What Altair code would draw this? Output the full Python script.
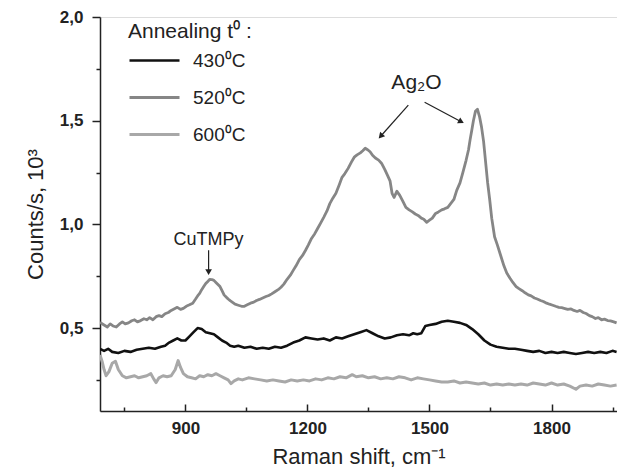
import altair as alt
import pandas as pd

# ---------------- data ----------------
wn_520 = [690, 700, 708, 715, 722, 730, 738, 745, 752, 760, 768, 775, 782, 790, 798, 805, 812, 820, 828, 835, 842,
          850, 858, 865, 872, 880, 888, 895, 902, 910, 918, 925, 930, 935, 940, 945, 950, 955, 960, 965, 970, 975,
          980, 985, 990, 995, 1000, 1005, 1010, 1015, 1022, 1030, 1038, 1045, 1052, 1060, 1068, 1075, 1082, 1090,
          1098, 1105, 1112, 1120, 1128, 1135, 1142, 1150, 1158, 1165, 1172, 1180, 1188, 1195, 1202, 1210, 1218, 1225,
          1232, 1240, 1248, 1255, 1262, 1270, 1278, 1285, 1292, 1300, 1308, 1315, 1322, 1330, 1336, 1342, 1348, 1354,
          1360, 1367, 1375, 1382, 1390, 1396, 1403, 1408, 1413, 1420, 1427, 1435, 1442, 1450, 1458, 1465, 1472, 1480,
          1486, 1493, 1500, 1507, 1515, 1522, 1530, 1537, 1545, 1552, 1560, 1567, 1575, 1582, 1590, 1596, 1600, 1604,
          1608, 1613, 1618, 1623, 1628, 1633, 1638, 1643, 1648, 1653, 1660, 1667, 1675, 1683, 1690, 1698, 1705, 1713,
          1720, 1728, 1735, 1743, 1750, 1758, 1765, 1773, 1780, 1788, 1795, 1803, 1810, 1818, 1825, 1833, 1840, 1848,
          1855, 1863, 1870, 1878, 1885, 1893, 1900, 1908, 1915, 1923, 1930, 1938, 1945, 1953, 1960]
counts_520 = [0.527, 0.515, 0.505, 0.52, 0.51, 0.505, 0.52, 0.53, 0.52, 0.525, 0.535, 0.54, 0.53, 0.536, 0.545, 0.54,
              0.55, 0.54, 0.555, 0.56, 0.555, 0.569, 0.575, 0.585, 0.592, 0.60, 0.59, 0.595, 0.605, 0.612, 0.62, 0.64,
              0.655, 0.667, 0.685, 0.70, 0.715, 0.725, 0.735, 0.734, 0.73, 0.72, 0.71, 0.70, 0.68, 0.66, 0.65, 0.64,
              0.632, 0.625, 0.615, 0.61, 0.605, 0.605, 0.612, 0.62, 0.625, 0.633, 0.638, 0.645, 0.652, 0.657, 0.665,
              0.675, 0.685, 0.697, 0.712, 0.735, 0.755, 0.778, 0.80, 0.83, 0.85, 0.874, 0.90, 0.932, 0.955, 0.98, 1.005,
              1.034, 1.065, 1.10, 1.125, 1.15, 1.19, 1.227, 1.245, 1.27, 1.30, 1.324, 1.335, 1.345, 1.355, 1.367, 1.36,
              1.35, 1.333, 1.32, 1.31, 1.295, 1.265, 1.24, 1.21, 1.15, 1.13, 1.16, 1.14, 1.11, 1.082, 1.07, 1.06, 1.05,
              1.043, 1.03, 1.025, 1.01, 1.02, 1.03, 1.053, 1.06, 1.07, 1.075, 1.082, 1.10, 1.12, 1.164, 1.20, 1.25,
              1.309, 1.36, 1.41, 1.454, 1.50, 1.545, 1.555, 1.52, 1.469, 1.40, 1.30, 1.20, 1.12, 1.03, 0.94, 0.90, 0.85,
              0.80, 0.765, 0.74, 0.72, 0.70, 0.69, 0.68, 0.67, 0.66, 0.655, 0.645, 0.64, 0.633, 0.628, 0.62, 0.615, 0.61,
              0.605, 0.60, 0.598, 0.594, 0.59, 0.592, 0.585, 0.58, 0.585, 0.575, 0.57, 0.56, 0.555, 0.546, 0.55, 0.54,
              0.543, 0.536, 0.535, 0.53, 0.525, 0.52, 0.515, 0.512]

wn_430 = [690, 700, 710, 720, 735, 750, 765, 780, 795, 810, 825, 840, 850, 860, 870, 880, 890, 900, 910, 920, 930,
          940, 950, 960, 970, 980, 990, 1000, 1010, 1020, 1030, 1045, 1060, 1075, 1090, 1105, 1120, 1135, 1150, 1165,
          1180, 1195, 1210, 1225, 1240, 1255, 1270, 1285, 1300, 1315, 1330, 1345, 1360, 1375, 1390, 1405, 1420, 1435,
          1450, 1460, 1470, 1480, 1490, 1500, 1515, 1530, 1545, 1560, 1575, 1590, 1605, 1620, 1635, 1650, 1665, 1680,
          1695, 1710, 1725, 1740, 1755, 1770, 1785, 1800, 1815, 1830, 1845, 1860, 1875, 1890, 1905, 1920, 1935, 1950,
          1960]
counts_430 = [0.40, 0.39, 0.40, 0.385, 0.38, 0.39, 0.385, 0.395, 0.40, 0.405, 0.40, 0.41, 0.415, 0.43, 0.44, 0.45,
              0.44, 0.44, 0.46, 0.48, 0.50, 0.495, 0.48, 0.475, 0.47, 0.455, 0.44, 0.43, 0.415, 0.41, 0.415, 0.405,
              0.41, 0.40, 0.405, 0.40, 0.41, 0.405, 0.415, 0.43, 0.44, 0.455, 0.45, 0.445, 0.45, 0.44, 0.455, 0.45,
              0.46, 0.47, 0.48, 0.49, 0.475, 0.46, 0.45, 0.455, 0.465, 0.47, 0.465, 0.475, 0.47, 0.475, 0.51, 0.515,
              0.52, 0.53, 0.535, 0.53, 0.525, 0.515, 0.495, 0.47, 0.44, 0.42, 0.41, 0.405, 0.40, 0.40, 0.395, 0.39,
              0.385, 0.39, 0.38, 0.385, 0.38, 0.385, 0.38, 0.375, 0.38, 0.385, 0.38, 0.385, 0.38, 0.39, 0.385]

wn_600 = [690, 695, 700, 705, 712, 720, 728, 735, 745, 755, 765, 775, 785, 795, 805, 815, 822, 828, 835, 845, 855,
          865, 875, 882, 888, 895, 905, 915, 925, 935, 945, 955, 965, 975, 985, 995, 1005, 1012, 1020, 1030, 1040,
          1055, 1070, 1085, 1100, 1115, 1130, 1145, 1160, 1175, 1190, 1205, 1220, 1235, 1250, 1265, 1280, 1295, 1310,
          1320, 1335, 1350, 1365, 1380, 1395, 1410, 1425, 1440, 1455, 1470, 1485, 1500, 1515, 1530, 1545, 1560, 1575,
          1590, 1605, 1620, 1635, 1650, 1665, 1680, 1695, 1710, 1725, 1740, 1755, 1770, 1785, 1800, 1815, 1830, 1845,
          1860, 1870, 1885, 1900, 1915, 1930, 1945, 1960]
counts_600 = [0.37, 0.34, 0.30, 0.27, 0.29, 0.33, 0.34, 0.30, 0.27, 0.26, 0.265, 0.27, 0.26, 0.265, 0.27, 0.28, 0.255,
              0.237, 0.26, 0.27, 0.265, 0.27, 0.30, 0.343, 0.31, 0.28, 0.265, 0.26, 0.255, 0.27, 0.265, 0.275, 0.27,
              0.28, 0.27, 0.26, 0.25, 0.232, 0.245, 0.255, 0.25, 0.26, 0.255, 0.25, 0.245, 0.25, 0.245, 0.24, 0.25,
              0.245, 0.25, 0.245, 0.255, 0.25, 0.26, 0.255, 0.265, 0.26, 0.275, 0.265, 0.27, 0.26, 0.265, 0.255, 0.26,
              0.255, 0.265, 0.26, 0.25, 0.26, 0.255, 0.25, 0.245, 0.24, 0.24, 0.245, 0.235, 0.24, 0.235, 0.23, 0.235,
              0.225, 0.23, 0.225, 0.23, 0.225, 0.23, 0.225, 0.235, 0.23, 0.225, 0.235, 0.225, 0.23, 0.22, 0.205, 0.22,
              0.225, 0.22, 0.23, 0.225, 0.22, 0.225]

series_names = ["430\u2070C", "520\u2070C", "600\u2070C"]
series_colors = ["#111111", "#868686", "#a8a8a8"]
series_widths = [2.6, 3.0, 1.0]

x_major = [900, 1200, 1500, 1800]
x_ticks = [750, 900, 1050, 1200, 1350, 1500, 1650, 1800, 1950]
y_ticks = [0.25, 0.5, 0.75, 1.0, 1.25, 1.5, 1.75, 2.0]

# annotations
ann_text = ["CuTMPy", "Ag\u2082O"]
ann_x = [957, 1468]
ann_y = [0.925, 1.68]
ann_size = [18, 21]
arrow_x1 = [957, 1448, 1488]
arrow_y1 = [0.875, 1.575, 1.589]
arrow_x2 = [957, 1380, 1578]
arrow_y2 = [0.77, 1.425, 1.495]
arrow_angle = [180, 222, 118]

# ---------------- tables ----------------
rows = []
for name, xs, ys in zip(series_names, [wn_430, wn_520, wn_600], [counts_430, counts_520, counts_600]):
    for a, b in zip(xs, ys):
        rows.append({"wn": a, "counts": b, "series": name})
df = pd.DataFrame(rows)
df_text = pd.DataFrame({"wn": ann_x, "counts": ann_y, "label": ann_text, "size": ann_size})
df_arrow = pd.DataFrame({"wn": arrow_x1, "counts": arrow_y1, "wn2": arrow_x2, "counts2": arrow_y2,
                         "angle": arrow_angle})

x_scale = alt.Scale(domain=[690, 1961], nice=False, zero=False)
y_scale = alt.Scale(domain=[0.1, 2.0], nice=False, zero=False)
FONT = "Liberation Sans"

y_axis = alt.Axis(values=y_ticks, grid=False,
                  labelExpr="round(datum.value*4) % 2 == 0 ? replace(format(datum.value, '.1f'), '.', ',') : ''",
                  tickSize={"condition": {"test": "round(datum.value*4) % 2 == 0", "value": 8}, "value": 4},
                  tickColor="#222", tickWidth=1.5, labelPadding=9,
                  labelFont=FONT, labelFontSize=17, labelFontWeight="bold", labelColor="#222",
                  title="Counts/s, 10\u00b3", titleFont=FONT, titleFontSize=22,
                  titleFontWeight="normal", titleColor="#222", titlePadding=12,
                  domainColor="#222", domainWidth=1.5)

lines = alt.Chart(df).mark_line(clip=True, strokeJoin="round").encode(
    x=alt.X("wn:Q", scale=x_scale,
            axis=alt.Axis(values=x_major, format="d", ticks=False, tickSize=0, labelPadding=9, grid=False,
                          labelFont=FONT, labelFontSize=17, labelFontWeight="bold", labelColor="#222",
                          title="Raman shift, cm\u207b\u00b9", titleFont=FONT, titleFontSize=22,
                          titleFontWeight="normal", titleColor="#222", titlePadding=10,
                          domainColor="#222", domainWidth=1.5)),
    y=alt.Y("counts:Q", scale=y_scale, axis=y_axis),
    color=alt.Color("series:N", scale=alt.Scale(domain=series_names, range=series_colors),
                    legend=alt.Legend(title="Annealing t\u2070 :", orient="none", legendX=28, legendY=4,
                                      symbolType="stroke", symbolSize=2500, symbolStrokeWidth=2,
                                      titleFont=FONT, titleFontSize=21, titleFontWeight="normal",
                                      titleColor="#222", titlePadding=-8,
                                      labelFont=FONT, labelFontSize=19, labelColor="#222",
                                      labelOffset=12, rowPadding=-18, padding=0)),
    strokeWidth=alt.StrokeWidth("series:N", scale=alt.Scale(domain=series_names, range=series_widths),
                                legend=None),
)

texts = alt.Chart(df_text).mark_text(font=FONT, color="#222", baseline="middle", align="center").encode(
    x=alt.X("wn:Q", scale=x_scale,
            axis=alt.Axis(orient="top", offset=-394, values=x_ticks, labels=False, domain=False, grid=False,
                          title=None, tickColor="#222", tickWidth=1.5,
                          tickSize={"condition": {"test": "datum.value % 300 == 0", "value": 7}, "value": 4})),
    y=alt.Y("counts:Q", scale=y_scale),
    text="label:N",
    size=alt.Size("size:Q", scale=None, legend=None),
)

arrows = alt.Chart(df_arrow).mark_rule(color="#222", strokeWidth=1.2).encode(
    x=alt.X("wn:Q", scale=x_scale, axis=None), y=alt.Y("counts:Q", scale=y_scale),
    x2="wn2:Q", y2="counts2:Q",
)
heads = alt.Chart(df_arrow).mark_point(shape="triangle-up", filled=True, color="#222", size=45, opacity=1).encode(
    x=alt.X("wn2:Q", scale=x_scale, axis=None), y=alt.Y("counts2:Q", scale=y_scale),
    angle=alt.Angle("angle:Q", scale=None),
)

chart = alt.layer(lines, texts, arrows, heads).resolve_axis(x="independent").properties(
    width=517, height=394,
    autosize=alt.AutoSizeParams(type="none"),
    padding={"left": 92, "top": 9, "right": 0, "bottom": 56},
).configure_view(stroke=None).configure(background="white")

chart.save("out.html", embed_options={"renderer": "svg", "actions": False})
